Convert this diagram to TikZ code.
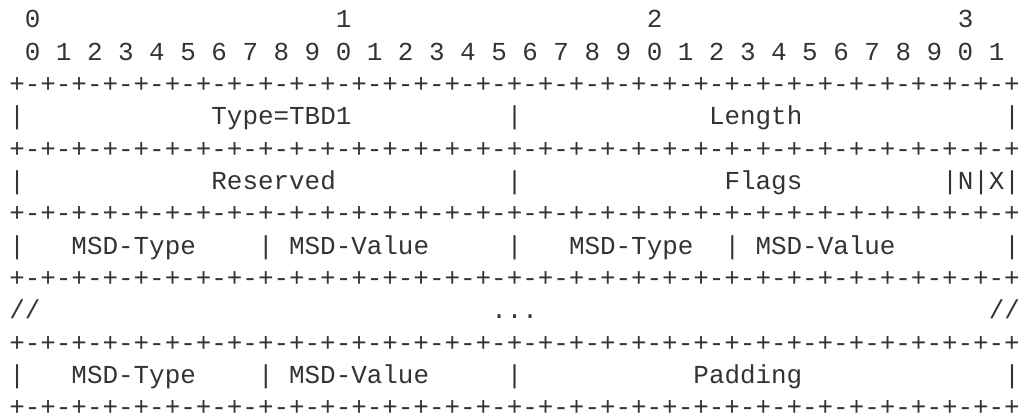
\documentclass[tikz,border=0pt]{standalone}
\usepackage{fontspec}
\newfontfamily\asciifont{Liberation Mono}
\newlength\cw
\setlength\cw{15.55pt}
\newcommand\gap[1]{\hspace*{#1\cw}}
\newcommand\dg[1]{\gap{1}#1}
\definecolor{ink}{HTML}{333333}
\def\bordrow{+-+-+-+-+-+-+-+-+-+-+-+-+-+-+-+-+-+-+-+-+-+-+-+-+-+-+-+-+-+-+-+-+}
\begin{document}
\begin{tikzpicture}[x=1pt,y=1pt,
  row/.style={anchor=base west, inner sep=0pt, outer sep=0pt, text=ink,
    font=\asciifont\fontsize{25.91}{32.3}\selectfont}]
\useasboundingbox (0,0) rectangle (1023,-417);
\node[row] (r1) at (9.3,-28) {\gap{1}0\gap{19}1\gap{19}2\gap{19}3};
\node[row] (r2) at (9.3,-60.3) {\dg0\dg1\dg2\dg3\dg4\dg5\dg6\dg7\dg8\dg9\dg0\dg1\dg2\dg3\dg4\dg5\dg6\dg7\dg8\dg9\dg0\dg1\dg2\dg3\dg4\dg5\dg6\dg7\dg8\dg9\dg0\dg1};
\node[row] (r3) at (9.3,-92.6) {\bordrow};
\node[row] (r4) at (9.3,-124.9) {|\gap{12}Type=TBD1\gap{10}|\gap{12}Length\gap{13}|};
\node[row] (r5) at (9.3,-157.2) {\bordrow};
\node[row] (r6) at (9.3,-189.5) {|\gap{12}Reserved\gap{11}|\gap{13}Flags\gap{9}|N|X|};
\node[row] (r7) at (9.3,-221.8) {\bordrow};
\node[row] (r8) at (9.3,-254.1) {|\gap{3}MSD-Type\gap{4}|\gap{1}MSD-Value\gap{5}|\gap{3}MSD-Type\gap{2}|\gap{1}MSD-Value\gap{7}|};
\node[row] (r9) at (9.3,-286.4) {\bordrow};
\node[row] (r10) at (9.3,-318.7) {//\gap{29}...\gap{29}//};
\node[row] (r11) at (9.3,-351) {\bordrow};
\node[row] (r12) at (9.3,-383.3) {|\gap{3}MSD-Type\gap{4}|\gap{1}MSD-Value\gap{5}|\gap{11}Padding\gap{13}|};
\node[row] (r13) at (9.3,-415.6) {\bordrow};
\end{tikzpicture}
\end{document}
